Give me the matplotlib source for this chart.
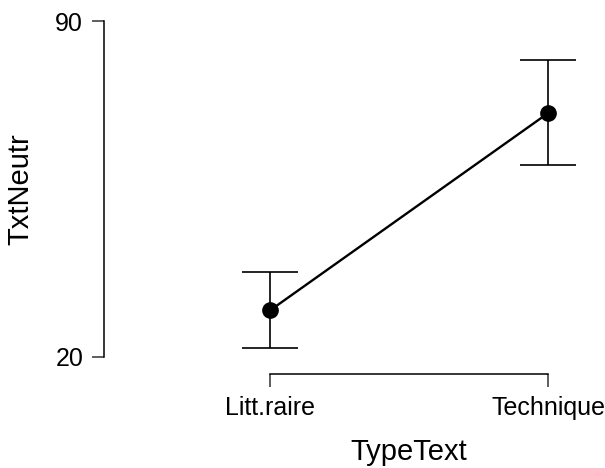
import matplotlib
matplotlib.use("Agg")
import matplotlib.pyplot as plt

plt.rcParams['font.family'] = ['Liberation Sans', 'DejaVu Sans']

# données
categories = ["Litt.raire", "Technique"]
means = [29.7, 70.8]
ci_low = [21.8, 60.0]
ci_high = [37.7, 81.9]

fig = plt.figure(figsize=(6.05, 4.68), dpi=100)
ax = fig.add_axes([104/605, (468-374)/468, (600-104)/605, (374-21)/468])

x = list(range(len(categories)))
err_low = [m - l for m, l in zip(means, ci_low)]
err_high = [h - m for m, h in zip(means, ci_high)]

ax.errorbar(x, means, yerr=[err_low, err_high], fmt='none', ecolor='black',
            elinewidth=1.2, capsize=20, capthick=1.2, zorder=2)
ax.plot(x, means, color='black', lw=1.7, marker='o', markersize=11, zorder=3)

ax.set_xlim(-0.597, 1.187)
ax.set_ylim(20 - 17/4.8, 90)

for s in ['top', 'right']:
    ax.spines[s].set_visible(False)
ax.spines['left'].set_bounds(20, 90)
ax.spines['bottom'].set_bounds(0, 1)
ax.spines['left'].set_linewidth(1.1)
ax.spines['bottom'].set_linewidth(1.1)

ax.set_yticks([20, 90])
ax.set_xticks(x)
ax.set_xticklabels(categories)
ax.tick_params(axis='both', length=9, width=1.1, labelsize=18, color='#333333')
ax.tick_params(axis='x', pad=7)
ax.tick_params(axis='y', pad=6)

fig.text(409/605, 1 - 460/468, "TypeText", fontsize=21, ha='center', va='baseline')
fig.text(20/605, 1 - 189/468, "TxtNeutr", fontsize=21, rotation=90,
         ha='center', va='center')

fig.savefig("out.png", dpi=100)
